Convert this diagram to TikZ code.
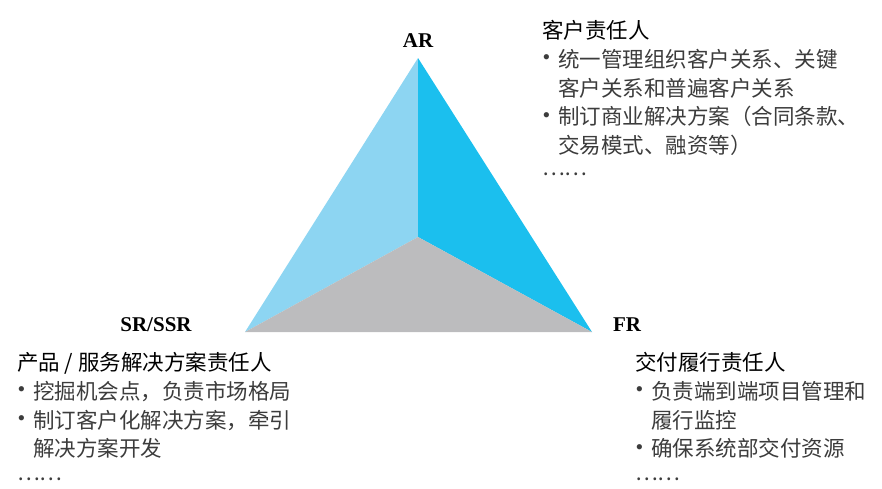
\documentclass[tikz,border=0pt]{standalone}
\usepackage{fontspec}
\setmainfont{Liberation Serif}
\newfontfamily\cjk{Noto Sans CJK SC}
\usetikzlibrary{positioning}
\definecolor{facelight}{HTML}{8DD5F2}
\definecolor{facedeep}{HTML}{1BBFEE}
\definecolor{facegray}{HTML}{BCBCBE}
\definecolor{txtgray}{HTML}{3C3C3C}
\tikzset{
  role/.style={font=\bfseries\fontsize{21}{21}\selectfont, inner sep=0pt},
  duty/.style={font=\cjk\fontsize{21.5}{28.8}\selectfont, align=left,
    anchor=north west, inner sep=0pt, text=txtgray},
}
\newcommand{\itm}{\makebox[16pt][l]{\hspace*{0.5pt}\raisebox{2.5pt}{\rmfamily\fontsize{22}{22}\selectfont •}}}
\newcommand{\ind}{\hspace*{16pt}}

\begin{document}
\begin{tikzpicture}[x=1pt,y=-1pt]
\useasboundingbox (0,0) rectangle (882,488);
\coordinate (ar) at (418,58);
\coordinate (sr) at (245,332);
\coordinate (fr) at (592,332);
\coordinate (ct) at (418,237);
% three faces
\fill[facelight] (ar) -- (ct) -- (sr) -- cycle;
\fill[facedeep] (ar) -- (fr) -- (ct) -- cycle;
\fill[facegray] (sr) -- (ct) -- (fr) -- cycle;
% roles
\node[role] (arlab) at (418,41) {AR};
\node[role] (srlab) at (156,325) {SR/SSR};
\node[role] (frlab) at (627,325) {FR};
% duties
\node[duty] (ardesc) at (542,20) {{\color{black}客户责任人}\\
\itm 统一管理组织客户关系、关键\\
\ind 客户关系和普遍客户关系\\
\itm 制订商业解决方案（合同条款、\\
\ind 交易模式、融资等）\\[-7pt]
……};
\node[duty] (srdesc) at (17,352) {{\color{black}产品 / 服务解决方案责任人}\\
\itm 挖掘机会点，负责市场格局\\
\itm 制订客户化解决方案，牵引\\
\ind 解决方案开发\\[-5pt]
……};
\node[duty] (frdesc) at (635,352) {{\color{black}交付履行责任人}\\
\itm 负责端到端项目管理和\\
\ind 履行监控\\
\itm 确保系统部交付资源\\[-5pt]
……};
\end{tikzpicture}
\end{document}
